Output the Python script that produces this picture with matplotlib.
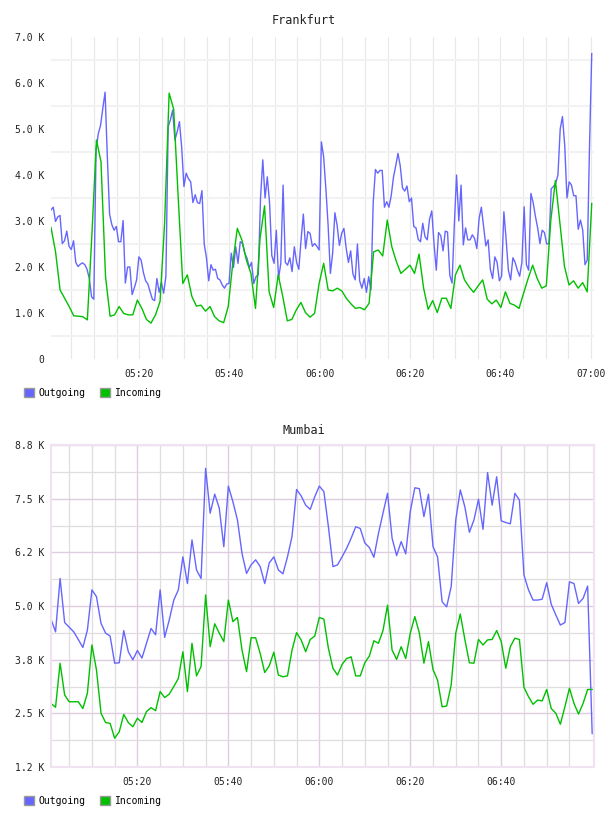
import numpy as np
import matplotlib
matplotlib.use('Agg')
import matplotlib.pyplot as plt
from matplotlib.patches import Patch

plt.rcParams['font.family'] = ['DejaVu Sans Mono']

# traffic in K (thousands); time in minutes after 05:00
# Frankfurt outgoing: one sample every 30 s
fra_out = [3.24, 3.30, 2.99, 3.09, 3.12, 2.51, 2.57, 2.78, 2.45, 2.38, 2.57, 2.10, 2.01, 2.06, 2.09, 2.05, 1.95, 1.75, 1.35, 1.30,
           4.55, 4.90, 5.08, 5.45, 5.80, 4.40, 3.15, 2.92, 2.80, 2.88, 2.55, 2.55, 3.01, 1.65, 2.00, 2.00, 1.40, 1.55, 1.72, 2.22,
           2.15, 1.88, 1.70, 1.63, 1.46, 1.30, 1.27, 1.75, 1.45, 1.66, 1.43, 1.80, 5.05, 5.20, 5.41, 4.76, 4.94, 5.16, 4.60, 3.75, 4.04,
           3.92, 3.85, 3.40, 3.57, 3.40, 3.38, 3.66, 2.50, 2.20, 1.70, 2.05, 1.93, 1.95, 1.75, 1.72, 1.61, 1.54, 1.63, 1.64, 2.30,
           1.99, 2.44, 2.08, 2.55, 2.51, 2.30, 2.19, 1.99, 2.10, 1.64, 1.79, 1.83, 3.50, 4.33, 3.50, 3.96, 3.40, 2.25, 2.08, 2.80,
           1.75, 2.08, 3.78, 2.10, 2.04, 2.20, 1.90, 2.44, 2.10, 1.95, 2.60, 3.15, 2.40, 2.77, 2.73, 2.45, 2.51, 2.45, 2.37, 4.72, 4.40,
           3.70, 2.90, 1.86, 2.30, 3.18, 2.90, 2.47, 2.73, 2.84, 2.41, 2.10, 2.35, 1.85, 1.72, 2.50, 1.70, 1.54, 1.75, 1.45, 1.79,
           1.50, 3.40, 4.12, 4.04, 4.10, 4.10, 3.30, 3.42, 3.30, 3.55, 3.95, 4.20, 4.47, 4.20, 3.72, 3.65, 3.76, 3.42, 3.50, 2.88,
           2.85, 2.60, 2.55, 2.95, 2.66, 2.59, 3.04, 3.22, 2.50, 1.93, 2.75, 2.68, 2.35, 2.78, 2.76, 1.82, 1.65, 2.90, 4.00, 3.00,
           3.78, 2.48, 2.85, 2.59, 2.59, 2.70, 2.62, 2.40, 3.05, 3.30, 2.88, 2.46, 2.59, 1.95, 1.75, 2.22, 2.10, 1.70, 1.80, 3.20,
           2.60, 1.93, 1.72, 2.20, 2.10, 1.93, 1.80, 2.10, 3.31, 2.05, 1.93, 3.60, 3.40, 3.10, 2.85, 2.51, 2.80, 2.75, 2.50, 2.51,
           3.70, 3.75, 3.82, 4.00, 5.00, 5.27, 4.65, 3.50, 3.85, 3.78, 3.55, 3.55, 2.82, 3.02, 2.80, 2.05, 2.15, 4.60, 6.64]
# Frankfurt incoming: one sample per minute
fra_in = [2.86, 2.33, 1.50, 1.32, 1.14, 0.94, 0.93, 0.92, 0.85, 2.70,
          4.76, 4.29, 1.79, 0.93, 0.96, 1.14, 0.99, 0.96, 0.96, 1.28,
          1.10, 0.86, 0.78, 0.96, 1.25, 2.95, 5.78, 5.43, 3.50, 1.64,
          1.83, 1.36, 1.15, 1.17, 1.04, 1.14, 0.92, 0.83, 0.79, 1.14,
          2.08, 2.84, 2.59, 2.15, 1.86, 1.10, 2.62, 3.33, 1.46, 1.12,
          1.83, 1.36, 0.83, 0.86, 1.07, 1.23, 1.01, 0.91, 0.99, 1.64,
          2.08, 1.50, 1.48, 1.54, 1.48, 1.32, 1.20, 1.10, 1.12, 1.07,
          1.21, 2.33, 2.37, 2.24, 3.02, 2.44, 2.12, 1.86, 1.95, 2.04,
          1.86, 2.28, 1.54, 1.08, 1.27, 1.01, 1.32, 1.32, 1.10, 1.83,
          2.04, 1.72, 1.57, 1.45, 1.59, 1.72, 1.30, 1.20, 1.28, 1.12,
          1.46, 1.21, 1.17, 1.10, 1.43, 1.75, 2.04, 1.75, 1.54, 1.59,
          3.02, 3.88, 2.95, 2.01, 1.61, 1.70, 1.54, 1.66, 1.46, 3.38]

# Mumbai: one sample per minute, 05:01 .. 07:00
mum_out = [4.69, 4.39, 5.65, 4.61, 4.50, 4.39, 4.21, 4.02, 4.43, 5.38, 5.22, 4.59, 4.36, 4.29, 3.65, 3.66, 4.42, 3.92, 3.73, 3.95,
           3.77, 4.12, 4.47, 4.32, 5.38, 4.26, 4.67, 5.14, 5.38, 6.16, 5.53, 6.56, 5.85, 5.65, 8.25, 7.19, 7.64, 7.31, 6.40, 7.83,
           7.46, 7.03, 6.24, 5.77, 5.97, 6.09, 5.93, 5.53, 6.02, 6.16, 5.85, 5.76, 6.16, 6.64, 7.75, 7.60, 7.38, 7.28, 7.58, 7.83,
           7.70, 6.87, 5.93, 5.97, 6.16, 6.36, 6.60, 6.87, 6.83, 6.49, 6.38, 6.15, 6.71, 7.19, 7.66, 6.60, 6.19, 6.52, 6.23, 7.23,
           7.79, 7.77, 7.11, 7.64, 6.40, 6.16, 5.10, 4.98, 5.46, 7.03, 7.74, 7.34, 6.74, 7.03, 7.52, 6.81, 8.15, 7.38, 8.05, 7.01,
           6.97, 6.94, 7.66, 7.50, 5.73, 5.38, 5.14, 5.14, 5.16, 5.55, 5.04, 4.79, 4.55, 4.61, 5.57, 5.53, 5.06, 5.18, 5.47, 1.99]
mum_in = [2.70, 2.61, 3.65, 2.90, 2.74, 2.74, 2.74, 2.58, 2.94, 4.08, 3.49, 2.47, 2.25, 2.23, 1.88, 2.03, 2.44, 2.25, 2.15, 2.35,
          2.25, 2.51, 2.60, 2.53, 2.98, 2.84, 2.92, 3.10, 3.29, 3.92, 2.98, 4.12, 3.35, 3.57, 5.26, 4.04, 4.58, 4.36, 4.16, 5.14,
          4.63, 4.73, 3.96, 3.45, 4.25, 4.25, 3.88, 3.43, 3.59, 3.91, 3.37, 3.33, 3.35, 3.96, 4.37, 4.20, 3.92, 4.21, 4.29, 4.73,
          4.69, 4.00, 3.53, 3.37, 3.62, 3.76, 3.80, 3.35, 3.35, 3.66, 3.82, 4.18, 4.12, 4.42, 5.02, 3.96, 3.74, 4.04, 3.76, 4.36,
          4.75, 4.36, 3.65, 4.16, 3.50, 3.25, 2.62, 2.64, 3.14, 4.36, 4.81, 4.21, 3.66, 3.65, 4.21, 4.08, 4.20, 4.21, 4.42, 4.16,
          3.53, 4.04, 4.24, 4.21, 3.08, 2.86, 2.68, 2.78, 2.76, 3.03, 2.58, 2.47, 2.21, 2.62, 3.06, 2.70, 2.45, 2.70, 3.03, 3.03]

time_ticks = [20, 40, 60, 80, 100, 120]
time_labels = ['05:20', '05:40', '06:00', '06:20', '06:40', '07:00']
fra_yticks = [0, 1, 2, 3, 4, 5, 6, 7]
fra_ylabels = ['0', '1.0 K', '2.0 K', '3.0 K', '4.0 K', '5.0 K', '6.0 K', '7.0 K']
mum_yticks = [1.2, 2.467, 3.733, 5.0, 6.267, 7.533, 8.8]
mum_ylabels = ['1.2 K', '2.5 K', '3.8 K', '5.0 K', '6.2 K', '7.5 K', '8.8 K']

BLUE = '#6666ff'
GREEN = '#00c000'

t_fra_out = np.linspace(0.5, 120.2, len(fra_out))
t_fra_in = np.linspace(0.5, 120.2, len(fra_in))
t_mum = np.linspace(1.0, 120.0, len(mum_out))

fig = plt.figure(figsize=(6.08, 8.16), dpi=100)
W, H = 608.0, 816.0


def add_legend(ax, top_px):
    handles = [Patch(facecolor=BLUE, edgecolor='#999999', lw=1.0),
               Patch(facecolor=GREEN, edgecolor='#999999', lw=1.0)]
    ax.legend(handles, ['Outgoing', 'Incoming'], loc='upper left',
              bbox_to_anchor=(24 / W, 1 - top_px / H), bbox_transform=fig.transFigure,
              ncol=2, frameon=False, fontsize=7, handlelength=1.0, handleheight=1.1,
              handletextpad=0.5, columnspacing=1.5, borderpad=0, borderaxespad=0)


# ---- Frankfurt ----
ax1 = fig.add_axes([51 / W, 1 - 359 / H, 543 / W, 322 / H])
ax1.plot(t_fra_out, fra_out, color=BLUE, lw=1.0)
ax1.plot(t_fra_in, fra_in, color=GREEN, lw=1.0)
ax1.set_xlim(0.5, 120.7)
ax1.set_ylim(0, 7)
ax1.set_xticks(time_ticks)
ax1.set_xticklabels(time_labels)
ax1.set_xticks(np.arange(5, 121, 5), minor=True)
ax1.set_yticks(fra_yticks)
ax1.set_yticklabels(fra_ylabels)
ax1.set_yticks(np.arange(0.5, 7, 1.0), minor=True)
ax1.grid(axis='x', which='both', color='#e8e8e8', lw=0.8)
ax1.grid(axis='y', which='minor', color='#f2f2f2', lw=1.5)
ax1.set_axisbelow(True)
for s in ax1.spines.values():
    s.set_visible(False)
ax1.tick_params(which='both', length=0, labelsize=7, colors='#222222')
ax1.tick_params(axis='y', pad=5)
ax1.tick_params(axis='x', pad=7)
fig.text(0.5, 1 - 20 / H, 'Frankfurt', ha='center', va='center', fontsize=8.5, color='#222222')
add_legend(ax1, 388)

# ---- Mumbai ----
ax2 = fig.add_axes([51 / W, 1 - 767 / H, 543 / W, 322 / H])
ax2.plot(t_mum, mum_out, color=BLUE, lw=1.0)
ax2.plot(t_mum, mum_in, color=GREEN, lw=1.0)
ax2.set_xlim(1.0, 120.4)
ax2.set_ylim(1.2, 8.8)
ax2.set_xticks(time_ticks[:-1])
ax2.set_xticklabels(time_labels[:-1])
ax2.set_xticks(np.arange(5, 120, 5), minor=True)
ax2.set_yticks(mum_yticks)
ax2.set_yticklabels(mum_ylabels)
ax2.set_yticks([(a + b) / 2 for a, b in zip(mum_yticks[:-1], mum_yticks[1:])], minor=True)
ax2.grid(which='minor', color='#dedede', lw=0.9)
ax2.grid(which='major', color='#e0cce0', lw=1.0)
ax2.set_axisbelow(True)
for s in ax2.spines.values():
    s.set_color('#f0e2f0')
    s.set_linewidth(1.5)
ax2.tick_params(which='both', length=0, labelsize=7, colors='#222222')
ax2.tick_params(axis='y', pad=5)
ax2.tick_params(axis='x', pad=7)
fig.text(0.5, 1 - 430 / H, 'Mumbai', ha='center', va='center', fontsize=8.5, color='#222222')
add_legend(ax2, 796)

fig.savefig('out.png', dpi=100)
